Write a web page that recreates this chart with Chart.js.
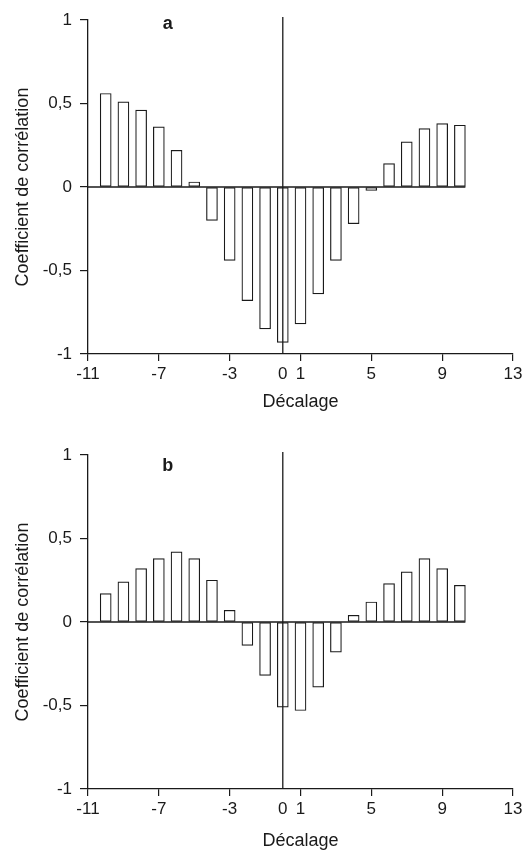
<!DOCTYPE html>
<html><head><meta charset="utf-8">
<script src="https://cdn.jsdelivr.net/npm/chart.js@4/dist/chart.umd.min.js"></script>
<style>
html,body{margin:0;padding:0;background:#fff;}
.wrap{position:relative;width:528px;height:428px;}
canvas{display:block;}
</style></head><body>
<div class="wrap"><canvas id="ca" width="528" height="428"></canvas></div>
<div class="wrap"><canvas id="cb" width="528" height="428"></canvas></div>
<script>
const lags = [-10,-9,-8,-7,-6,-5,-4,-3,-2,-1,0,1,2,3,4,5,6,7,8,9,10];
const valuesA = [0.56,0.51,0.46,0.36,0.22,0.03,-0.20,-0.44,-0.68,-0.85,-0.93,-0.82,-0.64,-0.44,-0.22,-0.02,0.14,0.27,0.35,0.38,0.37];
const valuesB = [0.17,0.24,0.32,0.38,0.42,0.38,0.25,0.07,-0.14,-0.32,-0.51,-0.53,-0.39,-0.18,0.04,0.12,0.23,0.30,0.38,0.32,0.22];
const xTickValues = [-11,-7,-3,0,1,5,9,13];
const yTickValues = [-1,-0.5,0,0.5,1];
const panelLabels = ['a','b'];
const xTitle = 'Décalage';
const yTitle = 'Coefficient de corrélation';

const FONT = "'Liberation Sans', Arial, Helvetica, sans-serif";
const INK = '#1a1a1a';

const refPlugin = {
  id: 'refLines',
  afterDatasetsDraw(chart, args, opts) {
    const {ctx, chartArea, scales} = chart;
    const x = scales.x, y = scales.y;
    const meta = chart.getDatasetMeta(0);
    const last = meta.data[meta.data.length - 1];
    const y0 = y.getPixelForValue(0);
    const x0 = x.getPixelForValue(0);
    ctx.save();
    ctx.strokeStyle = INK;
    ctx.lineWidth = 1.3;
    ctx.beginPath();
    ctx.moveTo(chartArea.left, y0);
    ctx.lineTo(last.x + last.width / 2, y0);
    ctx.stroke();
    ctx.beginPath();
    ctx.moveTo(x0, chartArea.top - 3);
    ctx.lineTo(x0, chartArea.bottom);
    ctx.stroke();
    ctx.font = 'bold 18px ' + FONT;
    ctx.fillStyle = INK;
    ctx.textAlign = 'center';
    ctx.textBaseline = 'middle';
    ctx.fillText(opts.label, x.getPixelForValue(opts.labelX), chartArea.top + opts.labelDy);
    ctx.restore();
  }
};

function makeChart(id, values, label, padTop, padBottom, titlePadBottom, labelDy) {
  return new Chart(document.getElementById(id), {
    type: 'bar',
    data: {
      datasets: [{
        data: lags.map((l, i) => ({x: l, y: values[i]})),
        backgroundColor: '#ffffff',
        borderColor: INK,
        borderWidth: 1.2,
        borderSkipped: false,
        barThickness: 11
      }]
    },
    options: {
      responsive: false,
      animation: false,
      events: [],
      layout: {padding: {left: 8, right: 15, top: padTop, bottom: padBottom}},
      plugins: {
        legend: {display: false},
        tooltip: {enabled: false},
        refLines: {label: label, labelX: -6.5, labelDy: labelDy}
      },
      scales: {
        x: {
          type: 'linear',
          min: -11, max: 13,
          offset: false,
          afterBuildTicks: s => { s.ticks = xTickValues.map(v => ({value: v})); },
          afterFit: s => { s.height = 66; s.paddingLeft = 0; s.paddingRight = 0; },
          ticks: {autoSkip: false, maxRotation: 0, padding: 3, color: INK, font: {size: 17, family: FONT}},
          grid: {drawOnChartArea: false, offset: false, tickLength: 7, lineWidth: 1.2,
                 color: c => (c.tick && c.tick.value === 0) ? 'rgba(0,0,0,0)' : INK},
          border: {color: INK, width: 1.3},
          title: {display: true, text: xTitle, color: INK, font: {size: 18, family: FONT}, padding: {top: 0, bottom: titlePadBottom}}
        },
        y: {
          type: 'linear',
          min: -1, max: 1,
          afterBuildTicks: s => { s.ticks = yTickValues.map(v => ({value: v})); },
          afterFit: s => { s.width = 80; s.paddingTop = 0; s.paddingBottom = 0; },
          ticks: {padding: 8, color: INK, font: {size: 17, family: FONT},
                  callback: v => String(v).replace('.', ',')},
          grid: {drawOnChartArea: false, tickLength: 8, lineWidth: 1.2, color: INK},
          border: {color: INK, width: 1.3},
          title: {display: true, text: yTitle, color: INK, font: {size: 18, family: FONT}, padding: {top: 4, bottom: 0}}
        }
      }
    },
    plugins: [refPlugin]
  });
}

makeChart('ca', valuesA, panelLabels[0], 20, 8, 7, 4);
makeChart('cb', valuesB, panelLabels[1], 27, 1, 3, 11);
</script>
</body></html>
